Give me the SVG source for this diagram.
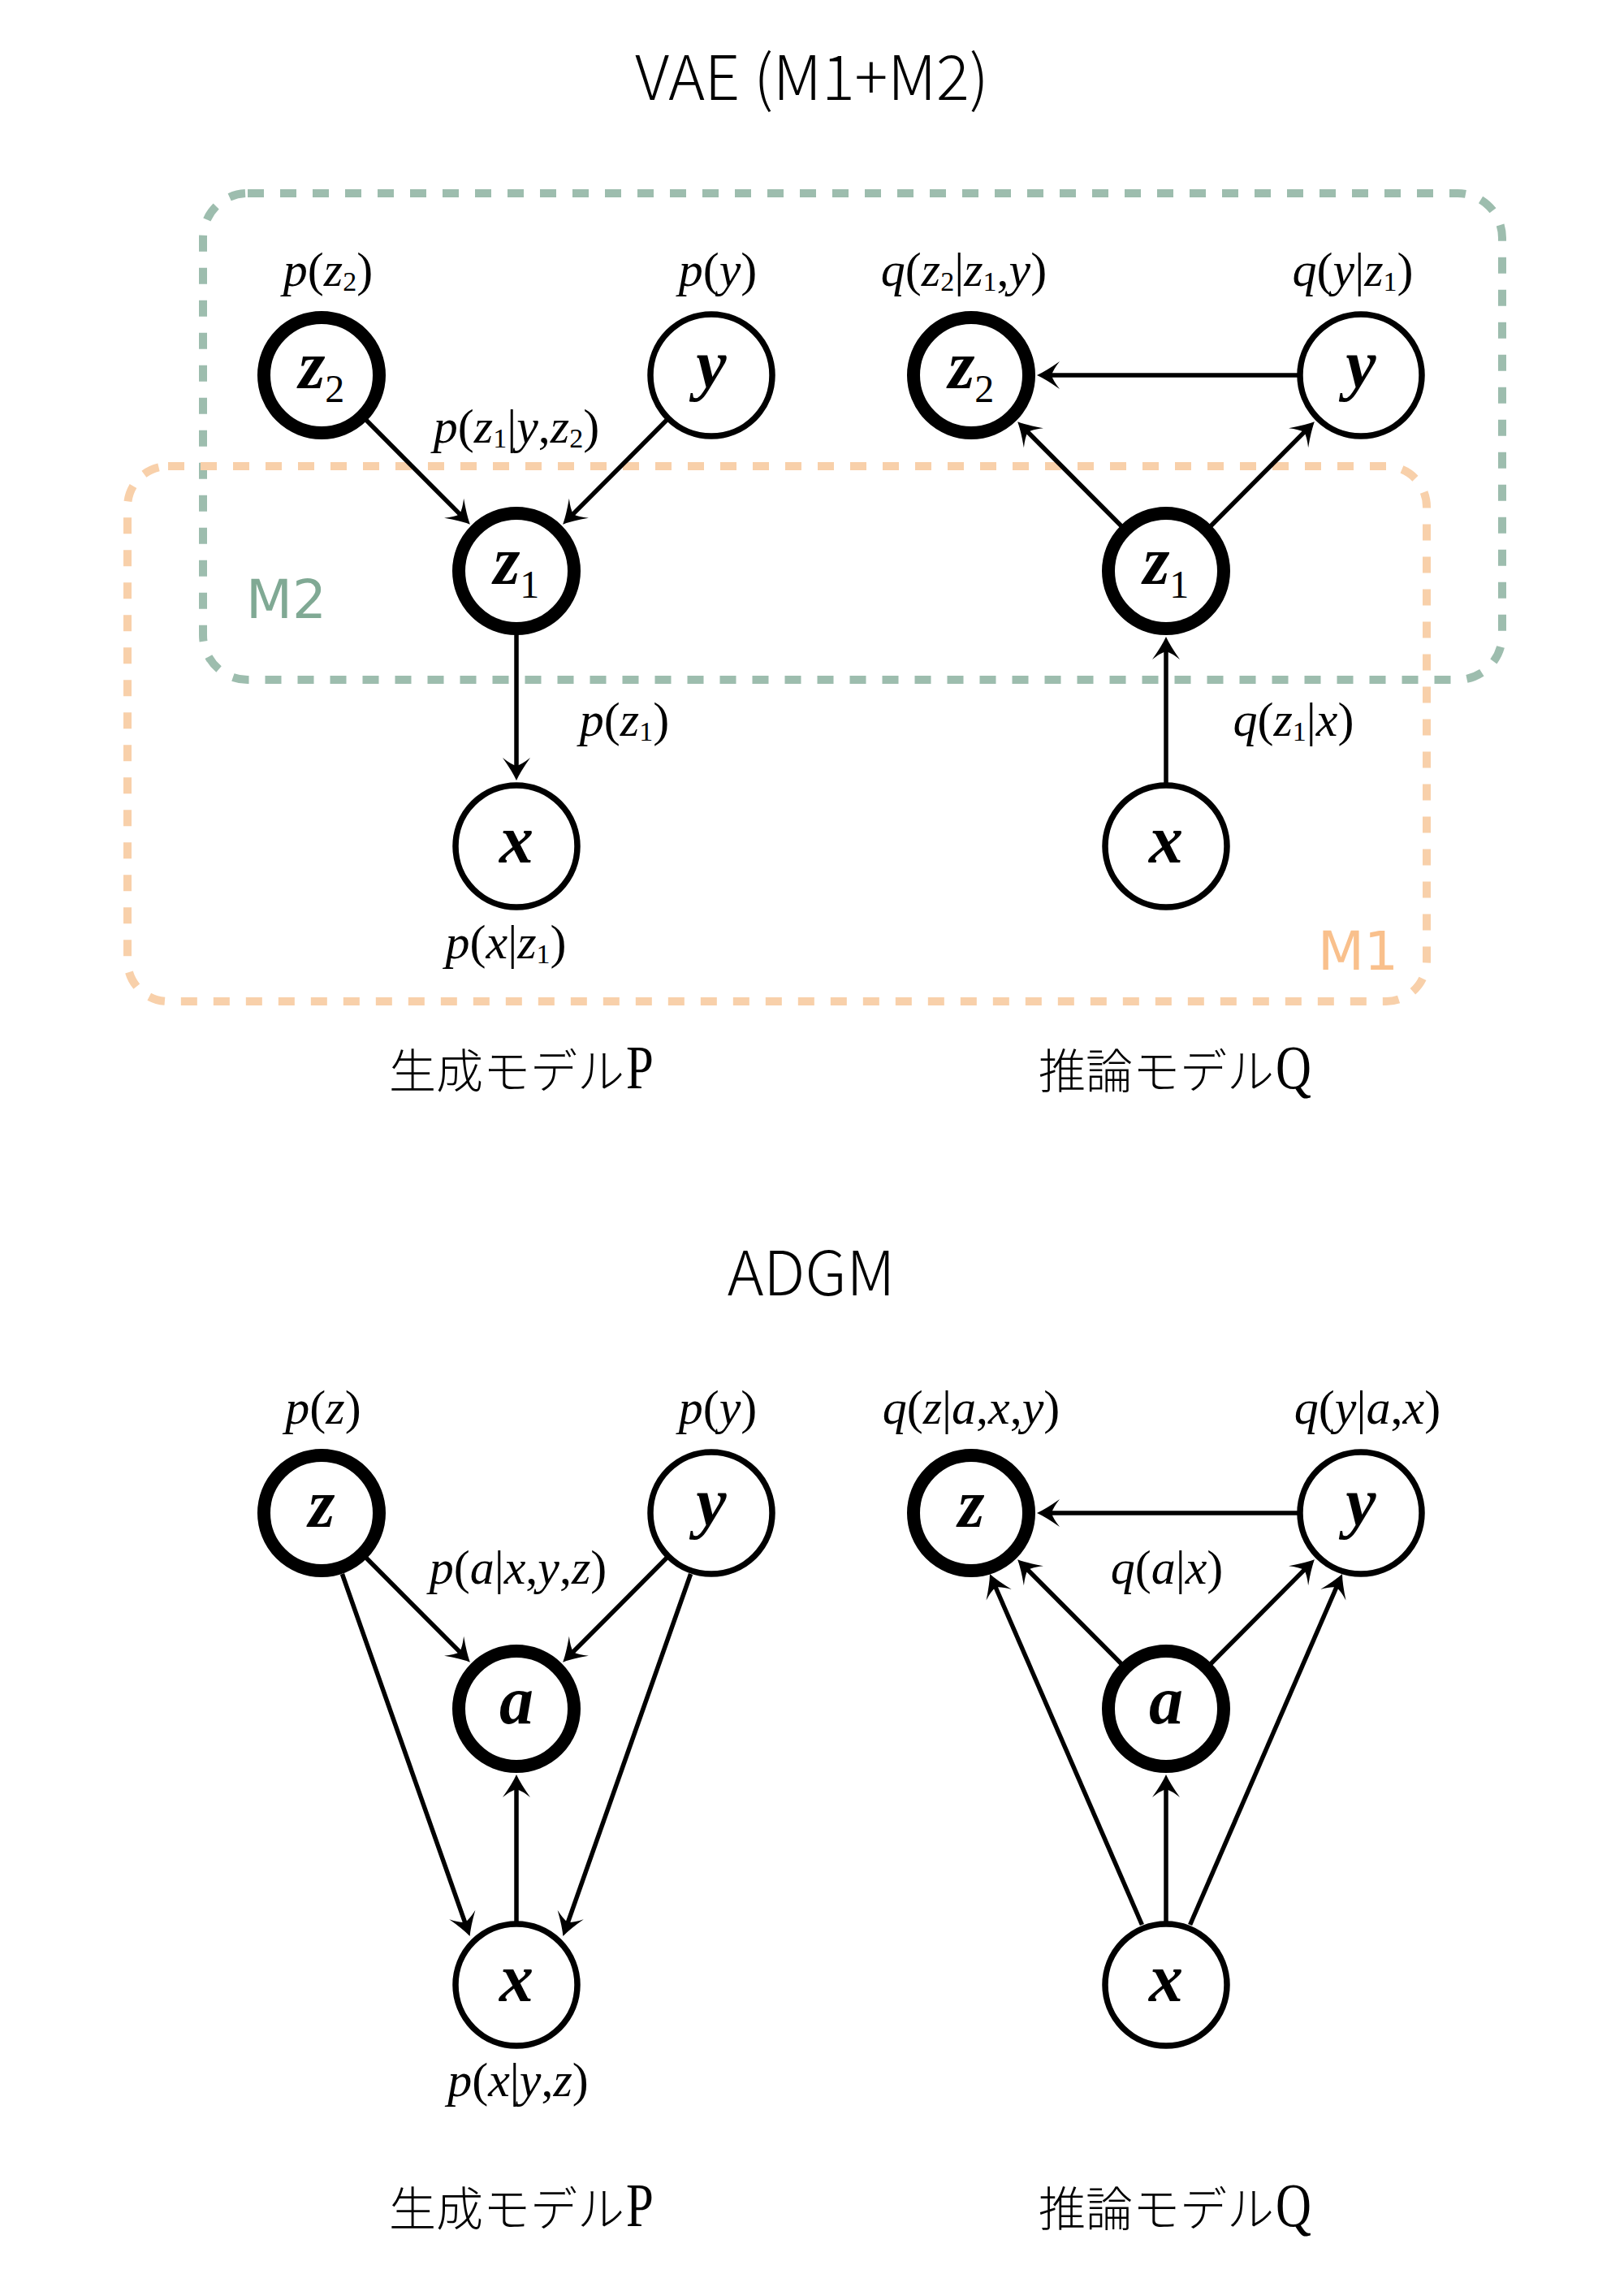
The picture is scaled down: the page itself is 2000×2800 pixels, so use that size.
<svg xmlns="http://www.w3.org/2000/svg" width="2000" height="2800" viewBox="0 0 2000 2800">
<style>
.title{font-family:"Noto Sans CJK JP","Noto Sans",sans-serif;font-weight:300;font-size:76px;fill:#000}
.jp{font-family:"Noto Sans CJK JP","Noto Sans CJK SC",sans-serif;font-weight:300;font-size:58px;fill:#000}
.pq{font-family:"Liberation Serif",serif;font-size:76px;fill:#000}
.box{fill:none;stroke-width:10;stroke-dasharray:20 20}
.m2box{stroke:#9dbdae}
.m1box{stroke:#f8d0aa}
.mlab{font-family:"DejaVu Sans",sans-serif;font-size:66px}
.thick{fill:#fff;stroke:#000;stroke-width:16}
.thin{fill:#fff;stroke:#000;stroke-width:7.5}
.var{font-family:"Liberation Serif",serif;font-style:italic;font-weight:bold;font-size:84px;text-anchor:middle;fill:#000}
.vsub{font-style:normal;font-weight:normal;font-size:48px}
.lbl{font-family:"Liberation Serif",serif;font-size:60px;text-anchor:middle;fill:#000}
.i{font-style:italic}
.s{font-size:34px}
.edge{fill:none;stroke:#000;stroke-width:5.5;marker-end:url(#ah)}
</style>
<defs>
<marker id="ah" viewBox="-30 -18 32 36" markerWidth="32" markerHeight="36" markerUnits="userSpaceOnUse" refX="-6" refY="0" orient="auto">
<path d="M0,0 Q-11,-5 -28,-17 Q-20,-7 -18,0 Q-20,7 -28,17 Q-11,5 0,0 Z" fill="#000"/>
</marker>
</defs>
<rect width="2000" height="2800" fill="#fff"/>

<g id="titles">
<text class="title" x="1000" y="123" text-anchor="middle">VAE (M1+M2)</text>
<text class="title" x="999" y="1595" text-anchor="middle">ADGM</text>
<text class="jp" x="479" y="1340">生成モデル</text>
<text class="pq" transform="translate(771,1340) scale(0.8,1)">P</text>
<text class="jp" x="1279" y="1340">推論モデル</text>
<text class="pq" transform="translate(1571,1340) scale(0.8,1)">Q</text>
<text class="jp" x="479" y="2741">生成モデル</text>
<text class="pq" transform="translate(771,2741) scale(0.8,1)">P</text>
<text class="jp" x="1279" y="2741">推論モデル</text>
<text class="pq" transform="translate(1571,2741) scale(0.8,1)">Q</text>
</g>

<g id="groups">
<rect class="box m2box" x="250" y="238" width="1600" height="599" rx="55"/>
<rect class="box m1box" x="157" y="574" width="1600" height="659" rx="50"/>
<text class="mlab" x="303" y="761" fill="#80a994">M2</text>
<text class="mlab" x="1623" y="1194" fill="#f9c08c">M1</text>
</g>

<g id="connectors">
<line class="edge" x1="451" y1="517.3" x2="574.6" y2="641.4"/>
<line class="edge" x1="821" y1="517.3" x2="697.4" y2="641.4"/>
<line class="edge" x1="636" y1="781" x2="636" y2="955"/>
<line class="edge" x1="1598" y1="462" x2="1283" y2="462"/>
<line class="edge" x1="1381" y1="647.7" x2="1257.4" y2="523.6"/>
<line class="edge" x1="1491" y1="647.7" x2="1614.6" y2="523.6"/>
<line class="edge" x1="1436" y1="964" x2="1436" y2="790"/>
<line class="edge" x1="451" y1="1918.3" x2="574.6" y2="2042.4"/>
<line class="edge" x1="821" y1="1918.3" x2="697.4" y2="2042.4"/>
<line class="edge" x1="421.4" y1="1938" x2="576.6" y2="2378.3"/>
<line class="edge" x1="850.6" y1="1938" x2="695.4" y2="2378.3"/>
<line class="edge" x1="636" y1="2366" x2="636" y2="2191"/>
<line class="edge" x1="1598" y1="1863" x2="1283" y2="1863"/>
<line class="edge" x1="1381" y1="2048.7" x2="1257.4" y2="1924.6"/>
<line class="edge" x1="1491" y1="2048.7" x2="1614.6" y2="1924.6"/>
<line class="edge" x1="1406.4" y1="2370" x2="1221.4" y2="1943.5"/>
<line class="edge" x1="1465.6" y1="2370" x2="1650.6" y2="1943.5"/>
<line class="edge" x1="1436" y1="2366" x2="1436" y2="2191"/>
</g>

<g id="vae-p-z2"><circle class="thick" cx="396" cy="462" r="71"/><text class="var" x="396" y="478">z<tspan class="vsub" dy="17">2</tspan></text></g>
<g id="vae-p-y"><circle class="thin" cx="876" cy="462" r="75"/><text class="var" x="876" y="477">y</text></g>
<g id="vae-p-z1"><circle class="thick" cx="636" cy="703" r="71"/><text class="var" x="636" y="719">z<tspan class="vsub" dy="17">1</tspan></text></g>
<g id="vae-p-x"><circle class="thin" cx="636" cy="1042" r="75"/><text class="var" x="636" y="1062">x</text></g>

<g id="vae-q-z2"><circle class="thick" cx="1196" cy="462" r="71"/><text class="var" x="1196" y="478">z<tspan class="vsub" dy="17">2</tspan></text></g>
<g id="vae-q-y"><circle class="thin" cx="1676" cy="462" r="75"/><text class="var" x="1676" y="477">y</text></g>
<g id="vae-q-z1"><circle class="thick" cx="1436" cy="703" r="71"/><text class="var" x="1436" y="719">z<tspan class="vsub" dy="17">1</tspan></text></g>
<g id="vae-q-x"><circle class="thin" cx="1436" cy="1042" r="75"/><text class="var" x="1436" y="1062">x</text></g>

<g id="adgm-p-z"><circle class="thick" cx="396" cy="1863" r="71"/><text class="var" x="396" y="1880">z</text></g>
<g id="adgm-p-y"><circle class="thin" cx="876" cy="1863" r="75"/><text class="var" x="876" y="1878">y</text></g>
<g id="adgm-p-a"><circle class="thick" cx="636" cy="2104" r="71"/><text class="var" x="636" y="2122">a</text></g>
<g id="adgm-p-x"><circle class="thin" cx="636" cy="2444" r="75"/><text class="var" x="636" y="2464">x</text></g>

<g id="adgm-q-z"><circle class="thick" cx="1196" cy="1863" r="71"/><text class="var" x="1196" y="1880">z</text></g>
<g id="adgm-q-y"><circle class="thin" cx="1676" cy="1863" r="75"/><text class="var" x="1676" y="1878">y</text></g>
<g id="adgm-q-a"><circle class="thick" cx="1436" cy="2104" r="71"/><text class="var" x="1436" y="2122">a</text></g>
<g id="adgm-q-x"><circle class="thin" cx="1436" cy="2444" r="75"/><text class="var" x="1436" y="2464">x</text></g>

<g id="labels">
<text class="lbl" x="404" y="352"><tspan class="i">p</tspan>(<tspan class="i">z</tspan><tspan class="s" dy="6">2</tspan><tspan dy="-6">)</tspan></text>
<text class="lbl" x="884" y="352"><tspan class="i">p</tspan>(<tspan class="i">y</tspan>)</text>
<text class="lbl" x="636" y="545"><tspan class="i">p</tspan>(<tspan class="i">z</tspan><tspan class="s" dy="6">1</tspan><tspan dy="-6">|</tspan><tspan class="i">y</tspan>,<tspan class="i">z</tspan><tspan class="s" dy="6">2</tspan><tspan dy="-6">)</tspan></text>
<text class="lbl" x="769" y="906"><tspan class="i">p</tspan>(<tspan class="i">z</tspan><tspan class="s" dy="6">1</tspan><tspan dy="-6">)</tspan></text>
<text class="lbl" x="623" y="1180"><tspan class="i">p</tspan>(<tspan class="i">x</tspan>|<tspan class="i">z</tspan><tspan class="s" dy="6">1</tspan><tspan dy="-6">)</tspan></text>
<text class="lbl" x="1187" y="352"><tspan class="i">q</tspan>(<tspan class="i">z</tspan><tspan class="s" dy="6">2</tspan><tspan dy="-6">|</tspan><tspan class="i">z</tspan><tspan class="s" dy="6">1</tspan><tspan dy="-6">,</tspan><tspan class="i">y</tspan>)</text>
<text class="lbl" x="1666" y="352"><tspan class="i">q</tspan>(<tspan class="i">y</tspan>|<tspan class="i">z</tspan><tspan class="s" dy="6">1</tspan><tspan dy="-6">)</tspan></text>
<text class="lbl" x="1593" y="906"><tspan class="i">q</tspan>(<tspan class="i">z</tspan><tspan class="s" dy="6">1</tspan><tspan dy="-6">|</tspan><tspan class="i">x</tspan>)</text>

<text class="lbl" x="398" y="1753"><tspan class="i">p</tspan>(<tspan class="i">z</tspan>)</text>
<text class="lbl" x="884" y="1753"><tspan class="i">p</tspan>(<tspan class="i">y</tspan>)</text>
<text class="lbl" x="638" y="1950"><tspan class="i">p</tspan>(<tspan class="i">a</tspan>|<tspan class="i">x</tspan>,<tspan class="i">y</tspan>,<tspan class="i">z</tspan>)</text>
<text class="lbl" x="638" y="2581"><tspan class="i">p</tspan>(<tspan class="i">x</tspan>|<tspan class="i">y</tspan>,<tspan class="i">z</tspan>)</text>
<text class="lbl" x="1196" y="1753"><tspan class="i">q</tspan>(<tspan class="i">z</tspan>|<tspan class="i">a</tspan>,<tspan class="i">x</tspan>,<tspan class="i">y</tspan>)</text>
<text class="lbl" x="1684" y="1753"><tspan class="i">q</tspan>(<tspan class="i">y</tspan>|<tspan class="i">a</tspan>,<tspan class="i">x</tspan>)</text>
<text class="lbl" x="1437" y="1950"><tspan class="i">q</tspan>(<tspan class="i">a</tspan>|<tspan class="i">x</tspan>)</text>
</g>
</svg>
